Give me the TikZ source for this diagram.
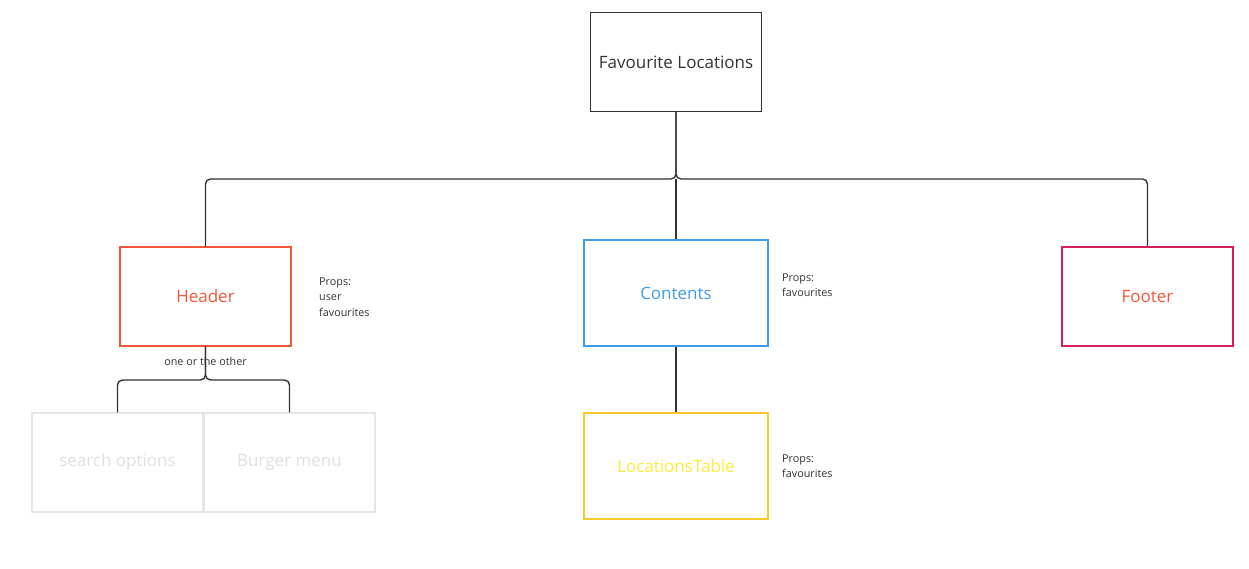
\documentclass[tikz,border=0pt]{standalone}
\usepackage{fontspec}
\setmainfont{Open Sans}
\usetikzlibrary{positioning}

\definecolor{linegray}{HTML}{333333}
\definecolor{headred}{HTML}{F0563A}
\definecolor{contblue}{HTML}{3D9BE9}
\definecolor{footpink}{HTML}{D81B60}
\definecolor{tabyellow}{HTML}{F9CB28}
\definecolor{tabtext}{HTML}{FFEB3B}
\definecolor{ghost}{HTML}{E6E6E6}
\definecolor{ghosttext}{HTML}{E0E0E0}

\tikzset{
  comp/.style={draw, line width=1.3pt, minimum width=171pt, minimum height=99pt,
    inner sep=0pt, font=\fontsize{17}{20}\selectfont},
  conn/.style={draw=linegray, line width=1.4pt, rounded corners=5pt},
  props/.style={align=left, anchor=west, inner sep=0pt, text=linegray,
    font=\fontsize{10.8}{15.5}\selectfont}
}

\begin{document}
\begin{tikzpicture}[x=1pt,y=-1pt]
    \useasboundingbox (0,0) rectangle (1249,569);

    \node[comp, draw=linegray, text=linegray] (root) at (676,62) {Favourite Locations};
    \node[comp, draw=headred, text=headred] (header) at (205.5,296.5) {Header};
    \node[comp, draw=contblue, text=contblue, minimum width=184pt, minimum height=106pt]
          (contents) at (676,293) {Contents};
    \node[comp, draw=footpink, text=headred] (footer) at (1147.5,296.5) {Footer};
    \node[comp, draw=tabyellow, text=tabtext, minimum width=184pt, minimum height=106pt]
          (table) at (676,466) {LocationsTable};
    \node[comp, draw=ghost, text=ghosttext] (search) at (117.5,462.5) {\raisebox{-2pt}{search options}};
    \node[comp, draw=ghost, text=ghosttext] (burger) at (289.5,462.5) {\raisebox{-2pt}{Burger menu}};

    % props
    \node[props] (hprops) at (319,297) {Props:\\user\\favourites};
    \node[props] (cprops) at (782,285) {Props:\\favourites};
    \node[props] (tprops) at (782,466) {Props:\\favourites};

    % tree
    \coordinate (split) at (676,179);
    \draw[conn] (root.south) -- (split) -| (header.north);
    \draw[conn] (root.south) -- (split) -| (footer.north);
    \draw[conn] (split) -- (contents.north);
    \draw[conn] (contents.south) -- (table.north);

    \coordinate (choice) at (205.5,380);
    \draw[conn] (header.south) -- (choice) -| (search.north);
    \draw[conn] (header.south) -- (choice) -| (burger.north);
    \node[props, anchor=center] (either) at (205.5,361) {one or the other};
  \end{tikzpicture}
\end{document}
